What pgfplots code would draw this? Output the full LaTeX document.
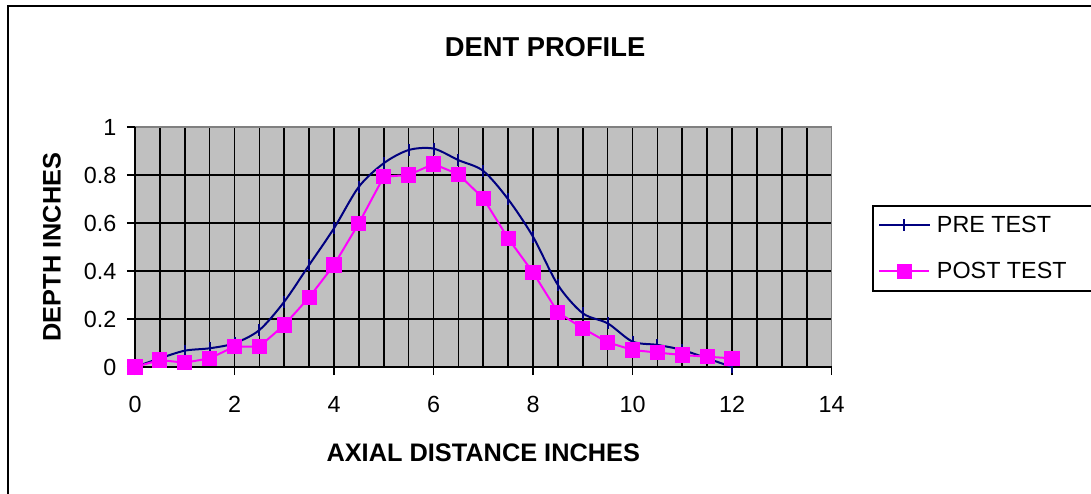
\documentclass[border=0pt]{standalone}
\usepackage{pgfplots}
\pgfplotsset{compat=1.18}
\usepackage{fontspec}
\setmainfont{Liberation Sans}
\definecolor{plotgray}{HTML}{C0C0C0}
\definecolor{bordergray}{HTML}{808080}
\definecolor{navy}{HTML}{000080}
\definecolor{mag}{HTML}{FF00FF}
\begin{document}
\begin{tikzpicture}[x=0.75pt,y=0.75pt]
\useasboundingbox (0,0) rectangle (1091,493);
\clip (0,0) rectangle (1091,493);
\draw[line width=1.5pt] (7.5,-20) -- (7.5,486.5) -- (1120,486.5);
\begin{axis}[
  at={(101.25pt,94.5pt)}, anchor=south west,
  scale only axis, width=522.375pt, height=180pt,
  xmin=0, xmax=14, ymin=0, ymax=1,
  clip=false,
  xtick={0,2,4,6,8,10,12,14},
  extra x ticks={0.5,1,1.5,2.5,3,3.5,4.5,5,5.5,6.5,7,7.5,8.5,9,9.5,10.5,11,11.5,12.5,13,13.5},
  extra x tick labels={},
  extra x tick style={grid=major, major tick length=0pt},
  ytick={0,0.2,0.4,0.6,0.8,1},
  xmajorgrids, ymajorgrids,
  every major grid/.style={black, line width=1.3pt},
  axis line style={draw=none},
  tick style={black, line width=1.3pt},
  major tick length=6pt, minor tick length=0pt,
  tick align=outside,
  xtick pos=bottom, ytick pos=left,
  axis background/.style={fill=plotgray},
  ticklabel style={font=\fontsize{17.5}{20}\selectfont},
  xticklabel style={yshift=-12.5pt},
  yticklabel style={xshift=-4.5pt},
  /pgf/number format/assume math mode=true,
  title={DENT PROFILE},
  every axis title/.style={at={(0.5887,1.3333)}, anchor=center, font=\bfseries\fontsize{20.5}{24}\selectfont},
  xlabel={AXIAL DISTANCE INCHES},
  every axis x label/.style={at={(0.5,-0.356)}, anchor=center, font=\bfseries\fontsize{19}{22}\selectfont},
  ylabel={DEPTH INCHES},
  every axis y label/.style={at={(-0.1192,0.5)}, rotate=90, anchor=center, font=\bfseries\fontsize{19}{22}\selectfont},
  legend image code/.code={\draw[mark repeat=2,mark phase=2,#1] plot coordinates {(0pt,0pt) (18.75pt,0pt) (37.5pt,0pt)};},
  legend style={at={(1.0581,0.675)}, anchor=north west, draw=black, line width=1.5pt,
    inner xsep=4pt, inner ysep=4.5pt, row sep=15pt, column sep=2pt,
    nodes={inner sep=3pt, anchor=west},
    font=\fontsize{17.5}{20}\selectfont},
]
\draw[bordergray, line width=1.3pt] (rel axis cs:0,1) -- (rel axis cs:1,1) -- (rel axis cs:1,0);
\draw[black, line width=1.3pt] (rel axis cs:0,1) -- (rel axis cs:0,0) -- (rel axis cs:1,0);
\addplot[navy, line width=1.5pt, smooth, mark=|, mark size=4.5pt, mark options={line width=1.5pt, solid}] coordinates {
(0,0) (0.5,0.036) (1,0.068) (1.5,0.078) (2,0.099) (2.5,0.154) (3,0.272) (3.5,0.425) (4,0.578) (4.5,0.751) (5,0.849) (5.5,0.904) (6,0.91) (6.5,0.862) (7,0.817) (7.5,0.699) (8,0.543) (8.5,0.342) (9,0.224) (9.5,0.182) (10,0.106) (10.5,0.092) (11,0.071) (11.5,0.036) (12,0)
};
\addlegendentry{PRE TEST}
\addplot[mag, line width=1.5pt, mark=square*, mark size=5.3pt, mark options={draw=mag, fill=mag, line width=0pt, solid}] coordinates {
(0,0) (0.5,0.029) (1,0.018) (1.5,0.036) (2,0.085) (2.5,0.085) (3,0.175) (3.5,0.29) (4,0.425) (4.5,0.599) (5,0.793) (5.5,0.8) (6,0.846) (6.5,0.803) (7,0.703) (7.5,0.536) (8,0.394) (8.5,0.228) (9,0.161) (9.5,0.103) (10,0.071) (10.5,0.06) (11,0.05) (11.5,0.043) (12,0.036)
};
\addlegendentry{POST TEST\hspace*{20pt}}
\end{axis}
\end{tikzpicture}
\end{document}
